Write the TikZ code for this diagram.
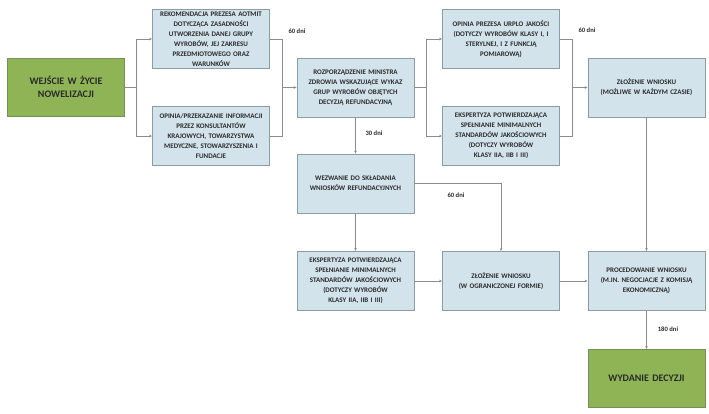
\documentclass[tikz,border=0pt]{standalone}
\usepackage{fontspec}
\setmainfont{Carlito}
\usetikzlibrary{arrows.meta}
\definecolor{boxblue}{HTML}{D3E3EC}
\definecolor{boxblueline}{HTML}{8C9CA6}
\definecolor{boxgreen}{HTML}{8FB456}
\definecolor{boxgreenline}{HTML}{76905A}
\definecolor{linegray}{HTML}{8C8C8C}
\definecolor{txt}{HTML}{2A2A2A}
\begin{document}
\begin{tikzpicture}[x=1pt,y=-1pt,
  bluebox/.style={draw=boxblueline, fill=boxblue, line width=0.9pt, minimum width=117pt, minimum height=59pt,
    text width=116pt, align=center, inner sep=0pt, text=txt,
    font=\bfseries\fontsize{7.0}{10}\selectfont},
  greenbox/.style={draw=boxgreenline, fill=boxgreen, line width=0.9pt, minimum width=117pt, minimum height=58pt,
    text width=113pt, align=center, inner sep=0pt, text=txt,
    font=\bfseries\fontsize{10}{13.5}\selectfont},
  conn/.style={draw=linegray, line width=0.9pt},
  arr/.style={conn, -{Stealth[length=3pt,width=2.6pt]}},
  dni/.style={font=\bfseries\fontsize{6.6}{8}\selectfont, text=txt, inner sep=0pt}
]
\useasboundingbox (0,0) rectangle (709,414);

\node[greenbox] (wej) at (66,87) {WEJŚCIE W ŻYCIE\\NOWELIZACJI};
\node[bluebox] (rek) at (211,39) {REKOMENDACJA PREZESA AOTMIT\\DOTYCZĄCA ZASADNOŚCI\\UTWORZENIA DANEJ GRUPY\\WYROBÓW, JEJ ZAKRESU\\PRZEDMIOTOWEGO ORAZ\\WARUNKÓW};
\node[bluebox] (opi) at (211,136) {OPINIA/PRZEKAZANIE INFORMACJI\\PRZEZ KONSULTANTÓW\\KRAJOWYCH, TOWARZYSTWA\\MEDYCZNE, STOWARZYSZENIA I\\FUNDACJE};
\node[bluebox] (rozp) at (355.5,87.5) {ROZPORZĄDZENIE MINISTRA\\ZDROWIA WSKAZUJĄCE WYKAZ\\GRUP WYROBÓW OBJĘTYCH\\DECYZJĄ REFUNDACYJNĄ};
\node[bluebox] (urpl) at (501,39) {OPINIA PREZESA URPLO JAKOŚCI\\(DOTYCZY WYROBÓW KLASY I, I\\STERYLNEJ, I Z FUNKCJĄ\\POMIAROWĄ)};
\node[bluebox] (eksa) at (501,136) {EKSPERTYZA POTWIERDZAJĄCA\\SPEŁNIANIE MINIMALNYCH\\STANDARDÓW JAKOŚCIOWYCH\\(DOTYCZY WYROBÓW\\KLASY IIA, IIB I III)};
\node[bluebox] (zla) at (646.5,87.5) {ZŁOŻENIE WNIOSKU\\(MOŻLIWE W KAŻDYM CZASIE)};
\node[bluebox] (wez) at (355.5,183.5) {WEZWANIE DO SKŁADANIA\\WNIOSKÓW REFUNDACYJNYCH};
\node[bluebox] (eksb) at (355.5,281) {EKSPERTYZA POTWIERDZAJĄCA\\SPEŁNIANIE MINIMALNYCH\\STANDARDÓW JAKOŚCIOWYCH\\(DOTYCZY WYROBÓW\\KLASY IIA, IIB I III)};
\node[bluebox] (zlb) at (501,281) {ZŁOŻENIE WNIOSKU\\(W OGRANICZONEJ FORMIE)};
\node[bluebox] (proc) at (646.5,281) {PROCEDOWANIE WNIOSKU\\(M.IN. NEGOCJACJE Z KOMISJĄ\\EKONOMICZNĄ)};
\node[greenbox] (wyd) at (646.5,378.5) {WYDANIE DECYZJI};

\coordinate (s1) at (136,87);
\coordinate (j1) at (282,87.5);
\coordinate (s2) at (426,87.5);
\coordinate (j2) at (572,87.5);

\draw[conn] (wej.east) -- (s1);
\draw[arr] (s1) |- (rek.west);
\draw[arr] (s1) |- (opi.west);
\draw[conn] (rek.east) -| (j1);
\draw[conn] (opi.east) -| (j1);
\draw[arr] (j1) -- (rozp.west);

\draw[conn] (rozp.east) -- (s2);
\draw[arr] (s2) |- (urpl.west);
\draw[arr] (s2) |- (eksa.west);
\draw[conn] (urpl.east) -| (j2);
\draw[conn] (eksa.east) -| (j2);
\draw[arr] (j2) -- (zla.west);

\draw[arr] (rozp.south) -- (wez.north);
\draw[arr] (wez.south) -- (eksb.north);
\draw[arr] (wez.east) -| (zlb.north);
\draw[arr] (eksb.east) -- (zlb.west);
\draw[arr] (zlb.east) -- (proc.west);
\draw[arr] (zla.south) -- (proc.north);
\draw[arr] (proc.south) -- (wyd.north);

\node[dni] (d1) at (297,31) {60 dni};
\node[dni] (d2) at (587,30) {60 dni};
\node[dni] (d3) at (374,133) {30 dni};
\node[dni] (d4) at (456,195) {60 dni};
\node[dni] (d5) at (668,329) {180 dni};
\end{tikzpicture}
\end{document}
